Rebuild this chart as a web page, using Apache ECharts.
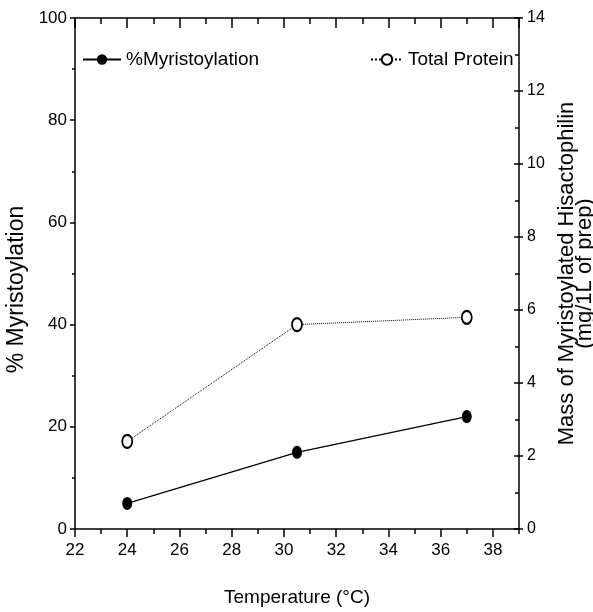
<!DOCTYPE html>
<html>
<head>
<meta charset="utf-8">
<script src="https://cdn.jsdelivr.net/npm/echarts@6/dist/echarts.min.js"></script>
<style>
html,body{margin:0;padding:0;background:#fff;}
#chart{width:593px;height:612px;}
</style>
</head>
<body>
<div id="chart"></div>
<script>
const temperature = [24, 30.5, 37];
const myristoylation = [5, 15, 22];
const totalProtein = [2.4, 5.6, 5.8];
const seriesNames = ['%Myristoylation', 'Total Protein'];
const xTitle = 'Temperature (°C)';
const leftTitle = '% Myristoylation';
const rightTitle = 'Mass of Myristoylated Hisactophilin\n(mg/1L of prep)';

const SANS = '"Liberation Sans", Arial, sans-serif';
const chart = echarts.init(document.getElementById('chart'));
const line = {show: true, onZero: false, lineStyle: {color: '#000', width: 1.5}};
const noLine = {show: false, onZero: false};

chart.setOption({
  animation: false,
  backgroundColor: '#fff',
  grid: {left: 75, right: 74, top: 18, bottom: 83, outerBoundsMode: 'none', containLabel: false},
  legend: [
    {data: [seriesNames[0]], left: 82, top: 50, padding: 0, itemWidth: 38, itemHeight: 13, itemGap: 5,
     textStyle: {fontFamily: SANS, fontSize: 19, color: '#000'}},
    {data: [seriesNames[1]], left: 370, top: 50, padding: 0, itemWidth: 32, itemHeight: 13, itemGap: 8,
     textStyle: {fontFamily: SANS, fontSize: 19, color: '#000'}}
  ],
  xAxis: [
    {type: 'value', min: 22, max: 39, interval: 2, position: 'bottom',
     axisLine: line, splitLine: {show: false},
     axisTick: {show: true, inside: false, length: 8, lineStyle: {color: '#000', width: 1.5}},
     axisLabel: {showMaxLabel: false, margin: 13, color: '#000', fontFamily: SANS, fontSize: 17},
     name: xTitle, nameLocation: 'middle', nameGap: 59,
     nameTextStyle: {fontFamily: SANS, fontSize: 19, color: '#000'}},
    {type: 'value', min: 22, max: 39, interval: 1, position: 'bottom',
     axisLine: noLine, splitLine: {show: false}, axisLabel: {show: false},
     axisTick: {show: true, inside: false, length: 5, lineStyle: {color: '#000', width: 1.5}}},
    {type: 'value', min: 22, max: 39, interval: 2, position: 'top',
     axisLine: line, splitLine: {show: false}, axisLabel: {show: false},
     axisTick: {show: true, inside: true, length: 10, lineStyle: {color: '#000', width: 1.5}}},
    {type: 'value', min: 22, max: 39, interval: 1, position: 'top',
     axisLine: noLine, splitLine: {show: false}, axisLabel: {show: false},
     axisTick: {show: true, inside: true, length: 6, lineStyle: {color: '#000', width: 1.5}}}
  ],
  yAxis: [
    {type: 'value', min: 0, max: 100, interval: 20, position: 'left',
     axisLine: line, splitLine: {show: false},
     axisTick: {show: true, inside: false, length: 5, lineStyle: {color: '#000', width: 1.5}},
     minorTick: {show: true, splitNumber: 2, length: 3, lineStyle: {color: '#000', width: 1.5}},
     axisLabel: {margin: 8, color: '#000', fontFamily: SANS, fontSize: 17},
     name: leftTitle, nameLocation: 'middle', nameGap: 45, nameRotate: 90,
     nameTextStyle: {fontFamily: SANS, fontSize: 23, color: '#000', padding: [0, 32, 0, 0]}},
    {type: 'value', min: 0, max: 14, interval: 2, position: 'right',
     axisLine: line, splitLine: {show: false},
     axisTick: {show: true, inside: true, length: 5, lineStyle: {color: '#000', width: 1.5}},
     minorTick: {show: true, splitNumber: 2, length: 4, lineStyle: {color: '#000', width: 1.5}},
     axisLabel: {margin: 8, color: '#000', fontFamily: SANS, fontSize: 16},
     name: rightTitle, nameLocation: 'middle', nameGap: 37, nameRotate: 90,
     nameTextStyle: {fontFamily: SANS, fontSize: 22, color: '#000', lineHeight: 18}},
    {type: 'value', min: 0, max: 14, interval: 2, position: 'right',
     axisLine: noLine, splitLine: {show: false}, axisLabel: {show: false},
     axisTick: {show: true, inside: false, length: 4, lineStyle: {color: '#000', width: 1.5}}}
  ],
  series: [
    {name: seriesNames[0], type: 'line', xAxisIndex: 0, yAxisIndex: 0,
     data: temperature.map((t, i) => [t, myristoylation[i]]),
     symbol: 'circle', symbolSize: [10, 13], color: '#000',
     lineStyle: {color: '#000', width: 1.3}, itemStyle: {color: '#000'}},
    {name: seriesNames[1], type: 'line', xAxisIndex: 0, yAxisIndex: 1,
     data: temperature.map((t, i) => [t, totalProtein[i]]),
     symbol: 'emptyCircle', symbolSize: [10, 13], color: '#000',
     lineStyle: {color: '#000', width: 1, type: 'dotted'},
     itemStyle: {color: '#000', borderColor: '#000', borderWidth: 1}}
  ]
});
</script>
</body>
</html>
